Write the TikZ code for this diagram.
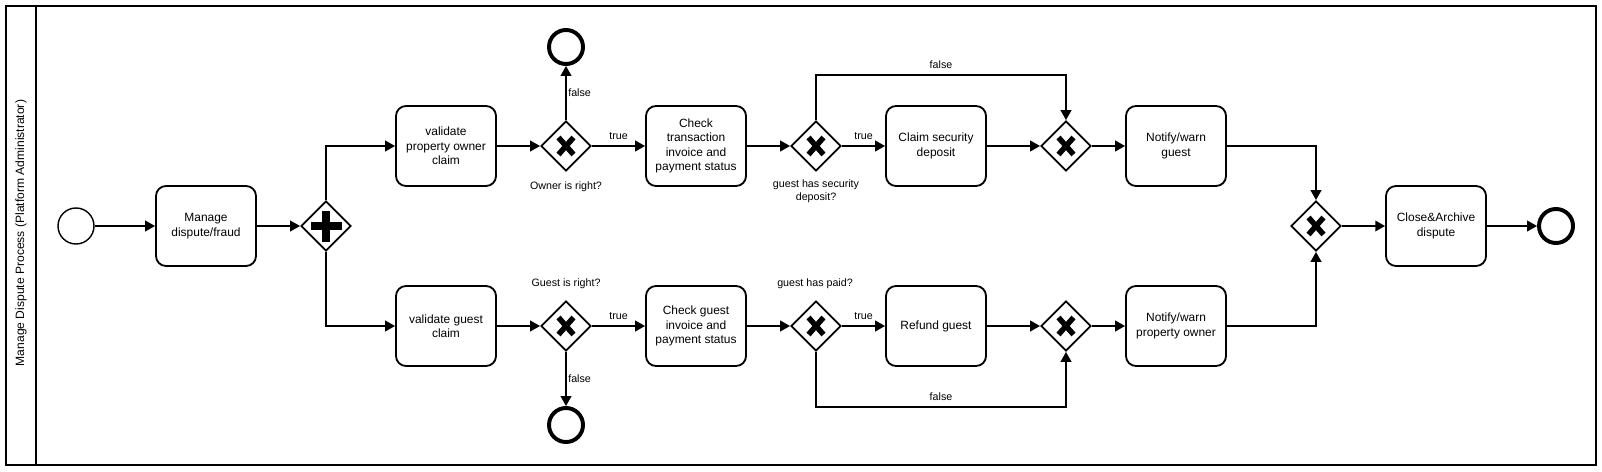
\documentclass[tikz,border=0pt]{standalone}
\usepackage{fontspec}
\setmainfont{Liberation Sans}
\usetikzlibrary{shapes.geometric,arrows.meta}

\begin{document}
\begin{tikzpicture}[x=0.025cm, y=-0.025cm,
  task/.style={draw, line width=1.3pt, rounded corners=0.25cm, minimum width=2.5cm, minimum height=2cm, align=center, inner sep=1pt, font=\fontsize{8.5}{10.3}\selectfont},
  gate/.style={draw, diamond, aspect=1, line width=1.3pt, minimum width=1.25cm, minimum height=1.25cm, inner sep=0pt},
  xgate/.style={gate, path picture={\draw [line width=3.9pt] (path picture bounding box.center) +(-7.5,-8.5) -- +(7.5,8.5) (path picture bounding box.center) +(-7.5,8.5) -- +(7.5,-8.5);}},
  pgate/.style={gate, path picture={\draw [line width=6pt] (path picture bounding box.center) +(-15.5,0) -- +(15.5,0) (path picture bounding box.center) +(0,-15.5) -- +(0,15.5);}},
  start/.style={draw, circle, line width=1pt, minimum size=0.9cm, inner sep=0pt},
  stop/.style={draw, circle, line width=2.8pt, minimum size=0.85cm, inner sep=0pt},
  flow/.style={line width=1.3pt, -{Triangle[length=7pt,width=7.5pt]}},
  lbl/.style={font=\fontsize{7.6}{9}\selectfont, inner sep=1pt, align=center}]

\useasboundingbox (0,0) rectangle (1602,472);

% pool and lane
\draw [line width=1.3pt] (6,6) rectangle (1596,465);
\draw [line width=1.3pt] (36,6) -- (36,465);
\node [font=\fontsize{8.6}{10}\selectfont, rotate=90] (lane)  at  (21, 233) {Manage Dispute Process (Platform Administrator)};

% Start
\node [start] (st)     at  (76, 226) {};
\node [task]  (mng)    at  (206, 226) {Manage\\dispute/fraud};
\node [pgate] (fork)   at  (326, 226) {};

% Upper branch
\node [task]  (valO)   at  (446, 146) {validate\\property owner\\claim};
\node [xgate] (gwO)    at  (566, 146) {};
\node [lbl]   (qO)     at  (566, 187) {Owner is right?};
\node [stop]  (endO)   at  (566, 47) {};
\node [task]  (chkT)   at  (696, 146) {Check\\transaction\\invoice and\\payment status};
\node [xgate] (gwDep)  at  (816, 146) {};
\node [lbl]   (qDep)   at  (816, 191) {guest has security\\deposit?};
\node [task]  (claim)  at  (936, 146) {Claim security\\deposit};
\node [xgate] (joinO)  at  (1066, 146) {};
\node [task]  (warnG)  at  (1176, 146) {Notify/warn\\guest};

% Lower branch
\node [task]  (valG)   at  (446, 326) {validate guest\\claim};
\node [xgate] (gwG)    at  (566, 326) {};
\node [lbl]   (qG)     at  (566, 284) {Guest is right?};
\node [stop]  (endG)   at  (566, 425) {};
\node [task]  (chkG)   at  (696, 326) {Check guest\\invoice and\\payment status};
\node [xgate] (gwPaid) at  (816, 326) {};
\node [lbl]   (qPaid)  at  (815, 284) {guest has paid?};
\node [task]  (refund) at  (936, 326) {Refund guest};
\node [xgate] (joinG)  at  (1066, 326) {};
\node [task]  (warnO)  at  (1176, 326) {Notify/warn\\property owner};

% Closing
\node [xgate] (merge)  at  (1316, 226) {};
\node [task]  (close)  at  (1436, 226) {Close\&Archive\\dispute};
\node [stop]  (fin)    at  (1556, 226) {};

% -------- Flows -----------
\draw [flow] (st) -- (mng);
\draw [flow] (mng) -- (fork);
\draw [flow] (fork.north) |- (valO);
\draw [flow] (fork.south) |- (valG);

\draw [flow] (valO) -- (gwO);
\draw [flow] (gwO) -- node [lbl, right] {false} (endO);
\draw [flow] (gwO) -- node [lbl, above=3pt] {true} (chkT);
\draw [flow] (chkT) -- (gwDep);
\draw [flow] (gwDep) -- node [lbl, above=3pt] {true} (claim);
\draw [flow] (gwDep.north) -- ++(0,-45) -| node [lbl, pos=0.25, above=3pt] {false} (joinO.north);
\draw [flow] (claim) -- (joinO);
\draw [flow] (joinO) -- (warnG);
\draw [flow] (warnG) -| (merge);

% Second row
\draw [flow] (valG) -- (gwG);
\draw [flow] (gwG) -- node [lbl, right] {false} (endG);
\draw [flow] (gwG) -- node [lbl, above=3pt] {true} (chkG);
\draw [flow] (chkG) -- (gwPaid);
\draw [flow] (gwPaid) -- node [lbl, above=3pt] {true} (refund);
\draw [flow] (gwPaid.south) -- ++(0,55) -| node [lbl, pos=0.25, above=3pt] {false} (joinG.south);
\draw [flow] (refund) -- (joinG);
\draw [flow] (joinG) -- (warnO);
\draw [flow] (warnO) -| (merge);

\draw [flow] (merge) -- (close);
\draw [flow] (close) -- (fin);
\end{tikzpicture}
\end{document}
